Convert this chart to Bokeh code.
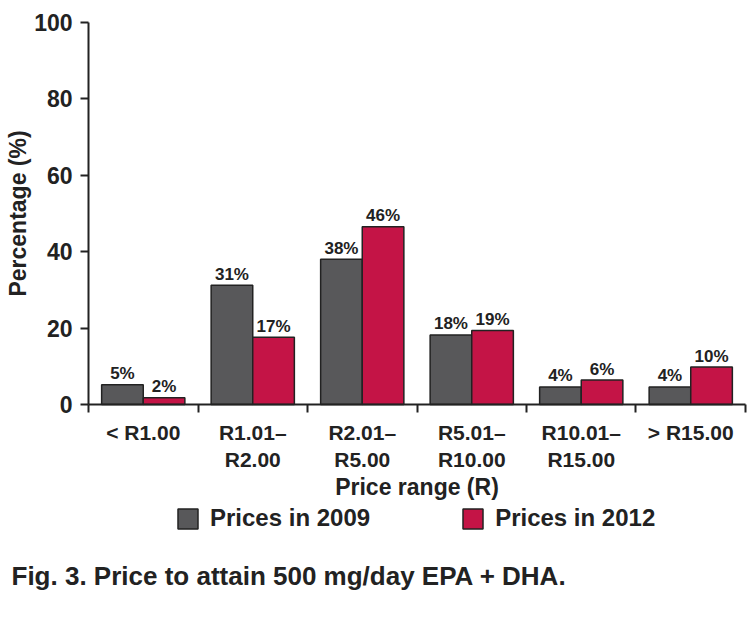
from bokeh.plotting import figure
from bokeh.models import (ColumnDataSource, FixedTicker, Legend, LegendItem, Label, Range1d)
from bokeh.core.properties import value
from bokeh.transform import dodge
from bokeh.embed import file_html
from bokeh.resources import INLINE

categories = ["< R1.00", "R1.01–\nR2.00", "R2.01–\nR5.00", "R5.01–\nR10.00", "R10.01–\nR15.00", "> R15.00"]
prices_2009 = [5.2, 31.2, 38.0, 18.2, 4.6, 4.6]
prices_2012 = [1.8, 17.6, 46.5, 19.4, 6.4, 9.8]
labels_2009 = ["5%", "31%", "38%", "18%", "4%", "4%"]
labels_2012 = ["2%", "17%", "46%", "19%", "6%", "10%"]
y_ticks = [0, 20, 40, 60, 80, 100]
series_names = ["Prices in 2009", "Prices in 2012"]
caption = "Fig. 3. Price to attain 500 mg/day EPA + DHA."

FONT = "Liberation Sans"
GRAY = "#58585a"
RED = "#c41446"
DARK = "#222222"

xc = [i + 0.5 for i in range(len(categories))]
src = ColumnDataSource(dict(x=xc, a=prices_2009, b=prices_2012, la=labels_2009, lb=labels_2012))

# The frame spans the whole canvas; axes are pinned at 0 so that the legend
# and caption below the axis stay inside the (clipped) frame.
p = figure(width=750, height=612, output_backend="svg", toolbar_location=None,
           x_range=Range1d(-0.8037, 6.0457), y_range=Range1d(-54.45, 105.76),
           min_border=0)
p.outline_line_color = None
p.grid.visible = False
p.background_fill_color = "white"

W = 0.38
r1 = p.vbar(x=dodge("x", -W / 2), top="a", width=W, source=src, fill_color=GRAY,
            line_color=DARK, line_width=1.5)
r2 = p.vbar(x=dodge("x", W / 2), top="b", width=W, source=src, fill_color=RED,
            line_color=DARK, line_width=1.5)

for col, lab in (("a", "la"), ("b", "lb")):
    off = -W / 2 if col == "a" else W / 2
    p.text(x=dodge("x", off), y=col, text=lab, source=src, text_font=value(FONT),
           text_font_style="bold", text_font_size="17px", text_align="center",
           text_baseline="alphabetic", y_offset=-11, text_color=DARK)

# x axis
xa = p.xaxis[0]
xa.fixed_location = 0
xa.bounds = (0, 6)
xa.ticker = FixedTicker(ticks=xc, minor_ticks=list(range(len(categories) + 1)))
xa.major_label_overrides = {x: c for x, c in zip(xc, categories)}
xa.major_tick_out = 0
xa.major_tick_in = 0
xa.minor_tick_out = 8
xa.minor_tick_in = 0
xa.minor_tick_line_color = DARK
xa.minor_tick_line_width = 2
xa.axis_line_color = DARK
xa.axis_line_width = 2
xa.major_label_text_font = FONT
xa.major_label_text_font_size = "21px"
xa.major_label_text_font_style = "bold"
xa.major_label_text_color = DARK
xa.major_label_standoff = 8
xa.axis_label = "Price range (R)"
xa.axis_label_text_font = FONT
xa.axis_label_text_font_size = "23px"
xa.axis_label_text_font_style = "bold"
xa.axis_label_text_color = DARK
xa.axis_label_standoff = 0

# y axis
ya = p.yaxis[0]
ya.fixed_location = 0
ya.bounds = (0, 100)
ya.ticker = FixedTicker(ticks=y_ticks)
ya.minor_tick_out = 0
ya.minor_tick_in = 0
ya.major_tick_out = 8
ya.major_tick_in = 0
ya.major_tick_line_color = DARK
ya.major_tick_line_width = 2
ya.axis_line_color = DARK
ya.axis_line_width = 2
ya.major_label_text_font = FONT
ya.major_label_text_font_size = "23px"
ya.major_label_text_font_style = "bold"
ya.major_label_text_color = DARK
ya.major_label_standoff = 8
ya.axis_label = "Percentage (%)"
ya.axis_label_text_font = FONT
ya.axis_label_text_font_size = "23px"
ya.axis_label_text_font_style = "bold"
ya.axis_label_text_color = DARK
ya.axis_label_standoff = 0

legend = Legend(items=[LegendItem(label=series_names[0], renderers=[r1]),
                       LegendItem(label=series_names[1], renderers=[r2])],
                orientation="horizontal", location=(175, 80),
                glyph_width=25, glyph_height=25, label_standoff=10, spacing=90,
                label_text_font=FONT, label_text_font_size="24px",
                label_text_font_style="bold", label_text_color=DARK,
                border_line_color=None, background_fill_alpha=0,
                padding=0, margin=0)
p.add_layout(legend)

cap = Label(x=11, y=37, x_units="screen", y_units="screen", text=caption,
            text_font=FONT, text_font_size="26px", text_font_style="bold",
            text_color=DARK, text_baseline="alphabetic")
p.add_layout(cap)

open("out.html", "w").write(file_html(p, INLINE))
